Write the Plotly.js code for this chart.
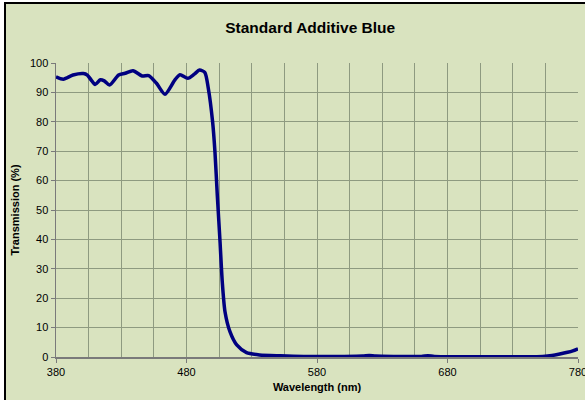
<!DOCTYPE html>
<html>
<head>
<meta charset="utf-8">
<script src="https://cdn.plot.ly/plotly-3.0.1.min.js"></script>
<style>
  html, body { margin: 0; padding: 0; background: #ffffff; overflow: hidden; }
  #frame { position: absolute; left: 4px; top: 2px; width: 620px; height: 420px;
    border-left: 2px solid #000; border-top: 2px solid #000; background: #d9e3bf; }
  #chart { position: absolute; left: 0; top: 0; width: 610px; height: 396px; }
</style>
</head>
<body>
<div id="frame"><div id="chart"></div></div>
<script>
// transmission curve, wavelength in nm, T in %
const wavelength = [380, 385.6, 393, 401, 404, 407, 410, 414, 417, 421, 428, 433, 439, 446, 451, 457, 463.5,
  471, 475, 481, 486, 490, 494, 496.7, 500, 501.8, 503.6, 505.7, 507.4, 509.5, 513.3, 518.5,
  526, 536, 552, 570, 600, 615, 620, 625, 640, 660, 665, 670, 700, 740, 753, 760, 766, 772, 776, 780];
const transmission = [95.3, 94.5, 95.9, 96.4, 95.9, 94.2, 92.7, 94.3, 93.9, 92.5, 95.9, 96.5, 97.4, 95.6, 95.7, 93.1, 89.4,
  94.2, 96.0, 94.8, 96.2, 97.6, 96.8, 91.4, 80.0, 69.8, 55.0, 39.2, 25.6, 15.4, 8.6, 4.1,
  1.5, 0.7, 0.4, 0.2, 0.2, 0.3, 0.5, 0.3, 0.2, 0.2, 0.4, 0.2, 0.1, 0.1, 0.2, 0.5, 1.0, 1.6, 2.1, 2.8];

const xTicks = [380, 480, 580, 680, 780];
const yTicks = [0, 10, 20, 30, 40, 50, 60, 70, 80, 90, 100];

const FONT = 'Liberation Sans, Arial, sans-serif';
const GRID = '#8e9a80';

// plot area spans 50..572 inside the chart div; extra right margin lets "780" run off the window edge
Plotly.newPlot('chart', [{
  x: wavelength, y: transmission, type: 'scatter', mode: 'lines',
  line: { color: '#000080', width: 3.5, shape: 'spline', smoothing: 0.7 },
  hoverinfo: 'skip',
}], {
  width: 610, height: 396,
  margin: { l: 50, r: 38, t: 59, b: 43 },
  paper_bgcolor: 'rgba(0,0,0,0)', plot_bgcolor: 'rgba(0,0,0,0)',
  showlegend: false,
  font: { family: FONT, color: '#000', size: 11 },
  title: { text: '<b>Standard Additive Blue</b>', font: { size: 15.5, family: FONT },
    x: 0.487, xref: 'paper', xanchor: 'center', y: 0.94, yanchor: 'middle' },
  xaxis: {
    range: [380, 780], tickvals: xTicks, ticktext: xTicks.map(String),
    showgrid: true, gridcolor: GRID, gridwidth: 1,
    minor: { dtick: 25, tick0: 380, showgrid: true, gridcolor: GRID, gridwidth: 1 },
    showline: true, linecolor: '#7a7a7a', linewidth: 1.5,
    ticks: 'outside', ticklen: 4, tickcolor: '#7a7a7a',
    zeroline: false, tickfont: { size: 11 }, ticklabeloverflow: 'allow',
    title: { text: '<b>Wavelength (nm)</b>', font: { size: 11 }, standoff: 6 },
  },
  yaxis: {
    range: [0, 100], tickvals: yTicks,
    showgrid: true, gridcolor: GRID, gridwidth: 1,
    showline: true, linecolor: '#7a7a7a', linewidth: 1.5,
    ticks: 'outside', ticklen: 4, tickcolor: '#7a7a7a',
    zeroline: false, tickfont: { size: 11 },
    title: { text: '<b>Transmission (%)</b>', font: { size: 11 }, standoff: 8 },
  },
}, { staticPlot: true, displayModeBar: false });
</script>
</body>
</html>
